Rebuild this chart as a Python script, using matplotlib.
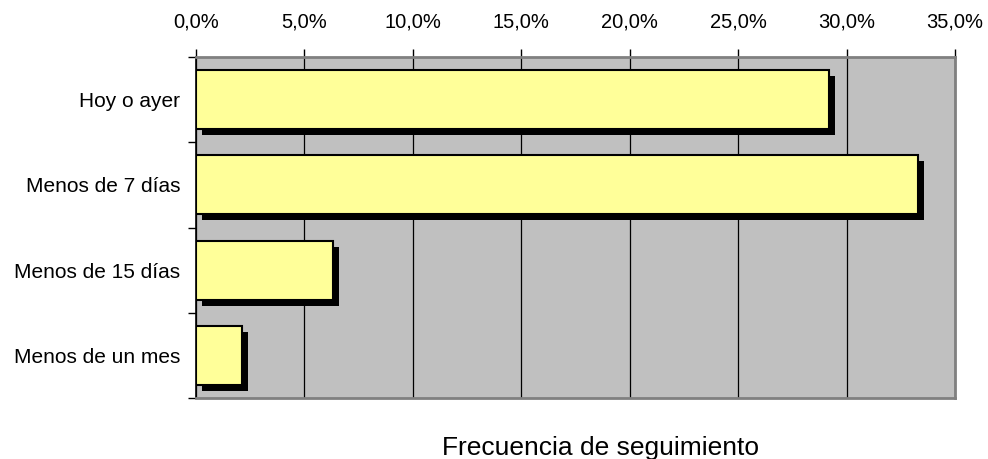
import matplotlib
matplotlib.use("Agg")
import matplotlib.pyplot as plt
import matplotlib.patheffects as pe
from matplotlib.ticker import FuncFormatter
import numpy as np

categories = ["Hoy o ayer", "Menos de 7 días", "Menos de 15 días", "Menos de un mes"]
values = [29.2, 33.3, 6.3, 2.1]
xticks = [0, 5, 10, 15, 20, 25, 30, 35]
title = "Frecuencia de seguimiento"

plt.rcParams['font.family'] = ['Liberation Sans', 'DejaVu Sans']

fig = plt.figure(figsize=(9.88, 4.59), dpi=100)
ax = fig.add_axes([196/988, 1 - 398/459, (955-196)/988, (398-57)/459])
ax.set_facecolor("#C0C0C0")

y = np.arange(len(categories))
bars = ax.barh(y, values, height=0.69, color="#FFFF99", edgecolor="black",
               linewidth=1.5, zorder=3)
for b in bars:
    b.set_path_effects([pe.SimplePatchShadow(offset=(4.3, -4.3), shadow_rgbFace="black", alpha=1.0),
                        pe.Normal()])

ax.set_xlim(0, 35)
ax.set_ylim(3.5, -0.5)
ax.xaxis.tick_top()
ax.set_xticks(xticks)
ax.xaxis.set_major_formatter(FuncFormatter(lambda v, p: f"{v:.1f}%".replace(".", ",")))
ax.xaxis.grid(True, color="black", linewidth=0.9, zorder=1)
ax.set_axisbelow(True)

ax.set_yticks(y)
ax.set_yticklabels(categories)
ax.set_yticks(np.arange(-0.5, len(categories), 1.0), minor=True)
ax.tick_params(axis="y", which="major", length=0, pad=11.5, labelsize=15)
ax.tick_params(axis="y", which="minor", length=6, width=1, direction="out")
ax.tick_params(axis="x", which="major", length=6, width=1, direction="out", pad=12, labelsize=14.5)

for side in ["top", "right", "bottom"]:
    ax.spines[side].set_color("#808080")
    ax.spines[side].set_linewidth(2)
ax.spines["left"].set_color("black")
ax.spines["left"].set_linewidth(1.2)

fig.text(600/988, 1 - 448/459, title, ha="center", va="center", fontsize=19)

fig.savefig("out.png", dpi=100)
